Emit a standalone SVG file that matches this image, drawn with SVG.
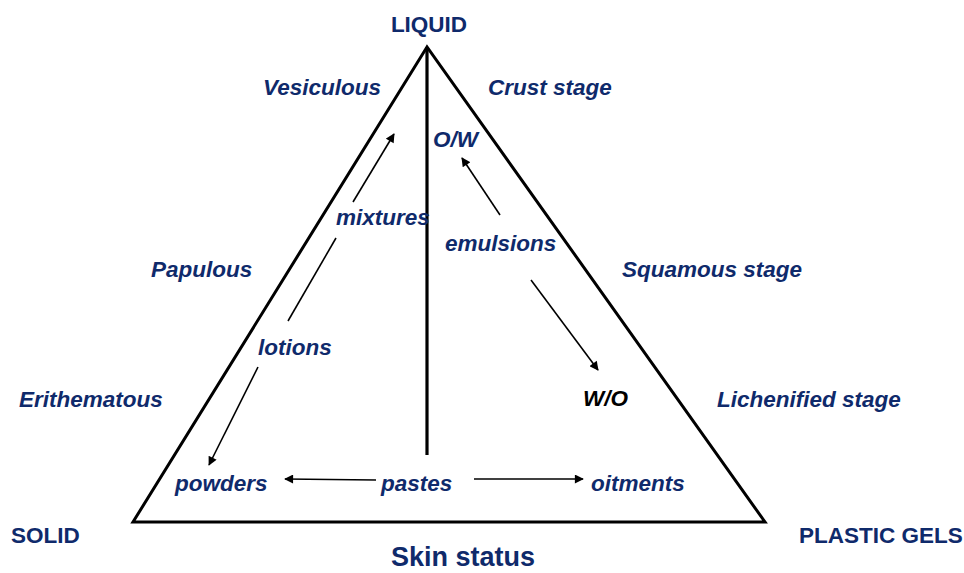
<svg xmlns="http://www.w3.org/2000/svg" width="964" height="573" viewBox="0 0 964 573">
<style>
text{font-family:"Liberation Sans",Arial,sans-serif;font-weight:bold;fill:#0f2a6b;font-size:22.5px}
.i{font-style:italic}
.k{fill:#000}
.m{text-anchor:middle}
.ln{stroke:#000;stroke-width:1.6;fill:none}
.ar{stroke:#000;stroke-width:1.6;fill:none;marker-end:url(#ah)}
</style>
<defs>
<marker id="ah" viewBox="0 0 10 10" refX="9" refY="5" markerWidth="10" markerHeight="9" markerUnits="userSpaceOnUse" orient="auto">
<path d="M0,0 L10,5 L0,10 z" fill="#000"/>
</marker>
</defs>
<g id="frame">
<polygon points="427,47 133,522 765,522" fill="none" stroke="#000" stroke-width="3" stroke-linejoin="miter"/>
<line x1="427" y1="47" x2="427" y2="455" stroke="#000" stroke-width="3.2"/>
</g>
<g id="corners">
<text id="liquid" class="m" x="429" y="32">LIQUID</text>
<text id="solid" x="11" y="543">SOLID</text>
<text id="plastic" x="799" y="543">PLASTIC GELS</text>
<text id="skin" class="m" x="463" y="566" style="font-size:27px">Skin status</text>
</g>
<g id="stages">
<text class="i" x="263" y="95">Vesiculous</text>
<text class="i" x="151" y="277">Papulous</text>
<text class="i" x="19" y="407">Erithematous</text>
<text class="i" x="488" y="95">Crust stage</text>
<text class="i" x="622" y="277">Squamous stage</text>
<text class="i" x="717" y="407">Lichenified stage</text>
</g>
<g id="n-ow"><text class="i" x="433" y="147">O/W</text></g>
<g id="n-mixtures"><text class="i" x="336" y="225">mixtures</text></g>
<g id="n-emulsions"><text class="i" x="445" y="251">emulsions</text></g>
<g id="n-lotions"><text class="i" x="258" y="355">lotions</text></g>
<g id="n-wo"><text class="i k" x="583" y="406">W/O</text></g>
<g id="n-powders"><text class="i" x="175" y="491">powders</text></g>
<g id="n-pastes"><text class="i" x="381" y="491">pastes</text></g>
<g id="n-oitments"><text class="i" x="591" y="491">oitments</text></g>
<g id="connectors">
<line class="ar" x1="353" y1="202" x2="394" y2="134"/>
<line class="ln" x1="288" y1="321" x2="336" y2="238"/>
<line class="ar" x1="258" y1="367" x2="209" y2="465"/>
<line class="ar" x1="500" y1="215" x2="462" y2="158"/>
<line class="ar" x1="531" y1="280" x2="598" y2="370"/>
<line class="ar" x1="376" y1="480" x2="285" y2="479"/>
<line class="ar" x1="474" y1="479" x2="583" y2="479"/>
</g>
</svg>
